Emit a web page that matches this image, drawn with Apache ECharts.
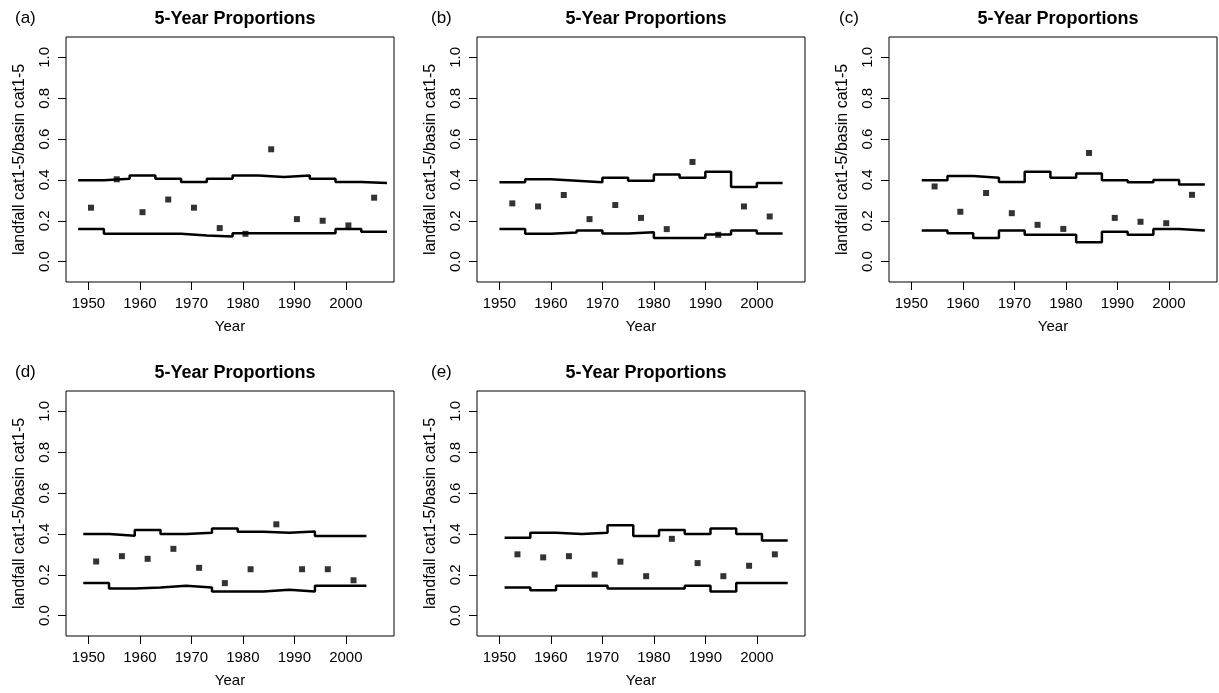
<!DOCTYPE html>
<html>
<head>
<meta charset="utf-8">
<script src="https://cdn.jsdelivr.net/npm/echarts@6/dist/echarts.min.js"></script>
<style>
  html, body { margin: 0; padding: 0; background: #fff; }
  #chart { width: 1219px; height: 693px; }
</style>
</head>
<body>
<div id="chart"></div>
<script>
// 5-year periods: edges of each step (start years plus final end year)
const aEdges = [1948, 1953, 1958, 1963, 1968, 1973, 1978, 1983, 1988, 1993, 1998, 2003, 2008];
const aUpper = [0.398, 0.406, 0.422, 0.406, 0.39, 0.406, 0.422, 0.414, 0.422, 0.406, 0.39, 0.385];
const aLower = [0.159, 0.136, 0.136, 0.136, 0.128, 0.123, 0.139, 0.139, 0.139, 0.139, 0.159, 0.146];
const aYears = [1950.5, 1955.5, 1960.5, 1965.5, 1970.5, 1975.5, 1980.5, 1985.5, 1990.5, 1995.5, 2000.5, 2005.5];
const aProps = [0.264, 0.403, 0.242, 0.304, 0.264, 0.164, 0.136, 0.55, 0.208, 0.2, 0.177, 0.313];

const bEdges = [1950, 1955, 1960, 1965, 1970, 1975, 1980, 1985, 1990, 1995, 2000, 2005];
const bUpper = [0.388, 0.403, 0.396, 0.388, 0.411, 0.396, 0.427, 0.411, 0.44, 0.365, 0.385];
const bLower = [0.159, 0.136, 0.142, 0.152, 0.137, 0.144, 0.116, 0.116, 0.133, 0.152, 0.137];
const bYears = [1952.5, 1957.5, 1962.5, 1967.5, 1972.5, 1977.5, 1982.5, 1987.5, 1992.5, 1997.5, 2002.5];
const bProps = [0.285, 0.27, 0.326, 0.208, 0.277, 0.214, 0.159, 0.488, 0.131, 0.27, 0.221];

const cEdges = [1952, 1957, 1962, 1967, 1972, 1977, 1982, 1987, 1992, 1997, 2002, 2007];
const cUpper = [0.398, 0.419, 0.411, 0.39, 0.44, 0.411, 0.432, 0.398, 0.388, 0.399, 0.378];
const cLower = [0.152, 0.139, 0.116, 0.152, 0.131, 0.131, 0.095, 0.146, 0.131, 0.159, 0.152];
const cYears = [1954.5, 1959.5, 1964.5, 1969.5, 1974.5, 1979.5, 1984.5, 1989.5, 1994.5, 1999.5, 2004.5];
const cProps = [0.368, 0.244, 0.336, 0.237, 0.18, 0.16, 0.532, 0.214, 0.195, 0.188, 0.327];

const dEdges = [1949, 1954, 1959, 1964, 1969, 1974, 1979, 1984, 1989, 1994, 1999, 2004];
const dUpper = [0.399, 0.391, 0.419, 0.399, 0.406, 0.427, 0.411, 0.406, 0.412, 0.39, 0.39];
const dLower = [0.159, 0.133, 0.137, 0.146, 0.137, 0.118, 0.118, 0.126, 0.118, 0.146, 0.146];
const dYears = [1951.5, 1956.5, 1961.5, 1966.5, 1971.5, 1976.5, 1981.5, 1986.5, 1991.5, 1996.5, 2001.5];
const dProps = [0.265, 0.291, 0.278, 0.327, 0.234, 0.159, 0.227, 0.447, 0.227, 0.227, 0.173];

const eEdges = [1951, 1956, 1961, 1966, 1971, 1976, 1981, 1986, 1991, 1996, 2001, 2006];
const eUpper = [0.381, 0.406, 0.399, 0.406, 0.442, 0.39, 0.419, 0.399, 0.427, 0.399, 0.368];
const eLower = [0.137, 0.124, 0.146, 0.146, 0.133, 0.133, 0.133, 0.146, 0.118, 0.159, 0.159];
const eYears = [1953.5, 1958.5, 1963.5, 1968.5, 1973.5, 1978.5, 1983.5, 1988.5, 1993.5, 1998.5, 2003.5];
const eProps = [0.3, 0.285, 0.291, 0.201, 0.264, 0.193, 0.376, 0.257, 0.193, 0.244, 0.3];

const xTicks = [1950, 1960, 1970, 1980, 1990, 2000];
const yTicks = [0, 0.2, 0.4, 0.6, 0.8, 1.0];

const panels = [
  { tag: "(a)", edges: aEdges, upper: aUpper, lower: aLower, years: aYears, props: aProps },
  { tag: "(b)", edges: bEdges, upper: bUpper, lower: bLower, years: bYears, props: bProps },
  { tag: "(c)", edges: cEdges, upper: cUpper, lower: cLower, years: cYears, props: cProps },
  { tag: "(d)", edges: dEdges, upper: dUpper, lower: dLower, years: dYears, props: dProps },
  { tag: "(e)", edges: eEdges, upper: eUpper, lower: eLower, years: eYears, props: eProps },
];

const FONT = "Liberation Sans, Arial, sans-serif";
const colLeft = [66, 477, 889];
const rowTop = [37, 391];
const tagLeft = [10, 426, 834];
const gridW = 328;
const gridH = 245;

let chart = echarts.init(document.getElementById("chart"));

let grids = [];
let xAxes = [];
let yAxes = [];
let titles = [];
let series = [];

function stepData(edges, values) {
  return edges.map((x, i) => [x, values[Math.min(i, values.length - 1)]]);
}

panels.forEach((p, i) => {
  const col = i % 3;
  const row = Math.floor(i / 3);
  const left = colLeft[col];
  const top = rowTop[row];

  grids.push({
    left: left,
    top: top,
    width: gridW,
    height: gridH,
    show: true,
    borderColor: "#000",
    borderWidth: 1,
    backgroundColor: "transparent",
  });

  xAxes.push({
    type: "value",
    gridIndex: i,
    position: "bottom",
    min: 1945.64,
    max: 2009.36,
    axisLine: { show: false, onZero: false },
    splitLine: { show: false },
    axisTick: {
      show: true,
      inside: false,
      length: 8,
      customValues: xTicks,
      lineStyle: { color: "#000", width: 1 },
    },
    axisLabel: {
      customValues: xTicks,
      margin: 14,
      color: "#000",
      fontFamily: FONT,
      fontSize: 15,
      formatter: (v) => String(v),
    },
    name: "Year",
    nameLocation: "middle",
    nameGap: 37,
    nameTextStyle: { color: "#000", fontFamily: FONT, fontSize: 15 },
  });

  yAxes.push({
    type: "value",
    gridIndex: i,
    position: "left",
    min: -0.1,
    max: 1.1,
    axisLine: { show: false, onZero: false },
    splitLine: { show: false },
    axisTick: {
      show: true,
      inside: false,
      length: 8,
      customValues: yTicks,
      lineStyle: { color: "#000", width: 1 },
    },
    axisLabel: {
      customValues: yTicks,
      rotate: 90,
      margin: 14,
      color: "#000",
      fontFamily: FONT,
      fontSize: 15,
      formatter: (v) => v.toFixed(1),
    },
    name: "landfall cat1-5/basin cat1-5",
    nameLocation: "middle",
    nameRotate: 90,
    nameGap: 38,
    nameTextStyle: { color: "#000", fontFamily: FONT, fontSize: 16 },
  });

  titles.push({
    text: "5-Year Proportions",
    left: left + gridW / 2,
    top: top - 32,
    textAlign: "center",
    textStyle: { fontFamily: FONT, fontSize: 18, fontWeight: "bold", color: "#000" },
  });
  titles.push({
    text: p.tag,
    left: tagLeft[col],
    top: top - 32,
    textStyle: { fontFamily: FONT, fontSize: 17, fontWeight: "normal", color: "#000" },
  });

  series.push({
    type: "line",
    step: "end",
    xAxisIndex: i,
    yAxisIndex: i,
    data: stepData(p.edges, p.upper),
    symbol: "none",
    lineStyle: { color: "#000", width: 2.5 },
    silent: true,
  });
  series.push({
    type: "line",
    step: "end",
    xAxisIndex: i,
    yAxisIndex: i,
    data: stepData(p.edges, p.lower),
    symbol: "none",
    lineStyle: { color: "#000", width: 2.5 },
    silent: true,
  });
  series.push({
    type: "scatter",
    xAxisIndex: i,
    yAxisIndex: i,
    data: p.years.map((y, k) => [y, p.props[k]]),
    symbol: "rect",
    symbolSize: 6,
    itemStyle: { color: "#000" },
    silent: true,
  });
});

chart.setOption({
  animation: false,
  title: titles,
  grid: grids,
  xAxis: xAxes,
  yAxis: yAxes,
  series: series,
});
</script>
</body>
</html>
